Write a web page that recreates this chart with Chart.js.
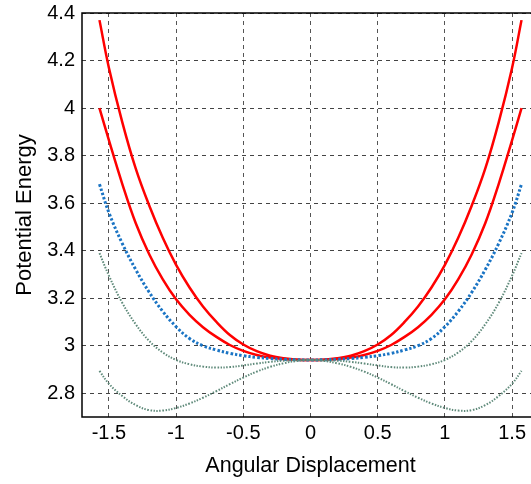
<!DOCTYPE html>
<html>
<head>
<meta charset="utf-8">
<script src="https://cdn.jsdelivr.net/npm/chart.js@4"></script>
<style>
  html, body { margin: 0; padding: 0; background: #fff; overflow: hidden; }
  #wrap { width: 541px; height: 484px; position: relative; }
</style>
</head>
<body>
<div id="wrap"><canvas id="chart"></canvas></div>
<script>
// angular displacement samples (rad)
const theta = [-1.57, -1.5, -1.4, -1.3, -1.2, -1.1, -1.0, -0.9, -0.8, -0.7, -0.6, -0.5, -0.4, -0.3, -0.2, -0.1,
               0, 0.1, 0.2, 0.3, 0.4, 0.5, 0.6, 0.7, 0.8, 0.9, 1.0, 1.1, 1.2, 1.3, 1.4, 1.5, 1.57];

// potential energy curves
const redOuter = [4.37, 4.17, 3.94, 3.745, 3.59, 3.455, 3.34, 3.245, 3.165, 3.10, 3.045, 3.005, 2.977, 2.958, 2.947, 2.941,
                  2.94, 2.941, 2.947, 2.958, 2.977, 3.005, 3.045, 3.10, 3.165, 3.245, 3.34, 3.455, 3.59, 3.745, 3.94, 4.17, 4.37];
const redInner = [4.0, 3.865, 3.68, 3.515, 3.385, 3.28, 3.195, 3.13, 3.078, 3.037, 3.003, 2.978, 2.961, 2.95, 2.944, 2.941,
                  2.94, 2.941, 2.944, 2.95, 2.961, 2.978, 3.003, 3.037, 3.078, 3.13, 3.195, 3.28, 3.385, 3.515, 3.68, 3.865, 4.0];
const blueMid = [3.68, 3.56, 3.43, 3.32, 3.225, 3.145, 3.08, 3.03, 3.0, 2.982, 2.968, 2.958, 2.951, 2.946, 2.943, 2.941,
                 2.94, 2.941, 2.943, 2.946, 2.951, 2.958, 2.968, 2.982, 3.0, 3.03, 3.08, 3.145, 3.225, 3.32, 3.43, 3.56, 3.68];
const greenUpper = [3.39, 3.295, 3.18, 3.09, 3.02, 2.972, 2.94, 2.922, 2.912, 2.908, 2.91, 2.917, 2.925, 2.932, 2.937, 2.939,
                    2.94, 2.939, 2.937, 2.932, 2.925, 2.917, 2.91, 2.908, 2.912, 2.922, 2.94, 2.972, 3.02, 3.09, 3.18, 3.295, 3.39];
const greenLower = [2.894, 2.84, 2.788, 2.75, 2.729, 2.727, 2.738, 2.757, 2.781, 2.809, 2.838, 2.866, 2.891, 2.911, 2.926, 2.936,
                    2.94, 2.936, 2.926, 2.911, 2.891, 2.866, 2.838, 2.809, 2.781, 2.757, 2.738, 2.727, 2.729, 2.75, 2.788, 2.84, 2.894];

// axis ticks
const xTicks = [-1.5, -1, -0.5, 0, 0.5, 1, 1.5];
const yTicks = [2.8, 3, 3.2, 3.4, 3.6, 3.8, 4, 4.2, 4.4];

function pts(ys) {
    return theta.map((t, i) => ({ x: t, y: ys[i] }));
}

function series(ys, color, width, dash) {
    return {
        data: pts(ys),
        borderColor: color,
        borderWidth: width,
        borderDash: dash,
        pointRadius: 0,
        fill: false,
        tension: 0.4
    };
}

// black frame round the plot area
const frame = {
    id: 'frame',
    afterDraw(chart) {
        const { ctx, chartArea: a } = chart;
        ctx.save();
        ctx.strokeStyle = '#000';
        ctx.lineWidth = 1.5;
        ctx.strokeRect(a.left, a.top, a.right - a.left, a.bottom - a.top);
        ctx.restore();
    }
};

const family = '"Liberation Sans", Arial, sans-serif';
const tickFont = { family, size: 20 };

new Chart(document.getElementById('chart'), {
    type: 'line',
    data: {
        datasets: [
            series(greenLower, '#5f8a7a', 2, [1.5, 1.5]),
            series(greenUpper, '#5f8a7a', 2, [1.5, 1.5]),
            series(blueMid, '#1a74c4', 3, [2.5, 2]),
            series(redInner, '#ff0000', 2.5, []),
            series(redOuter, '#ff0000', 2.5, [])
        ]
    },
    options: {
        responsive: true,
        maintainAspectRatio: false,
        animation: false,
        layout: { padding: { left: 0, top: 13, right: 2, bottom: 0 } },
        plugins: { legend: { display: false }, tooltip: { enabled: false } },
        scales: {
            x: {
                type: 'linear',
                min: -1.7,
                max: 1.7,
                afterBuildTicks: s => { s.ticks = xTicks.map(v => ({ value: v })); },
                afterFit: s => { s.height = 67; },
                grid: { color: '#555', lineWidth: 1, drawTicks: false },
                border: { display: false, dash: [4, 4] },
                ticks: { color: '#000', font: tickFont, padding: 4, maxRotation: 0, callback: v => String(v) },
                title: { display: true, text: 'Angular Displacement', color: '#000', font: { family, size: 21.5 }, padding: { top: 4, bottom: 5 } }
            },
            y: {
                min: 2.7,
                max: 4.4,
                afterBuildTicks: s => { s.ticks = yTicks.map(v => ({ value: v })); },
                afterFit: s => { s.width = 82; s.paddingTop = 0; s.paddingBottom = 0; },
                grid: { color: '#444', lineWidth: 1, drawTicks: false },
                border: { display: false, dash: [4, 4] },
                ticks: { color: '#000', font: { family, size: 20, lineHeight: 0.6 }, padding: 7, callback: v => String(v) },
                title: { display: true, text: 'Potential Energy', color: '#000', font: { family, size: 22 }, padding: { top: 12, bottom: 0 } }
            }
        }
    },
    plugins: [frame]
});
</script>
</body>
</html>
